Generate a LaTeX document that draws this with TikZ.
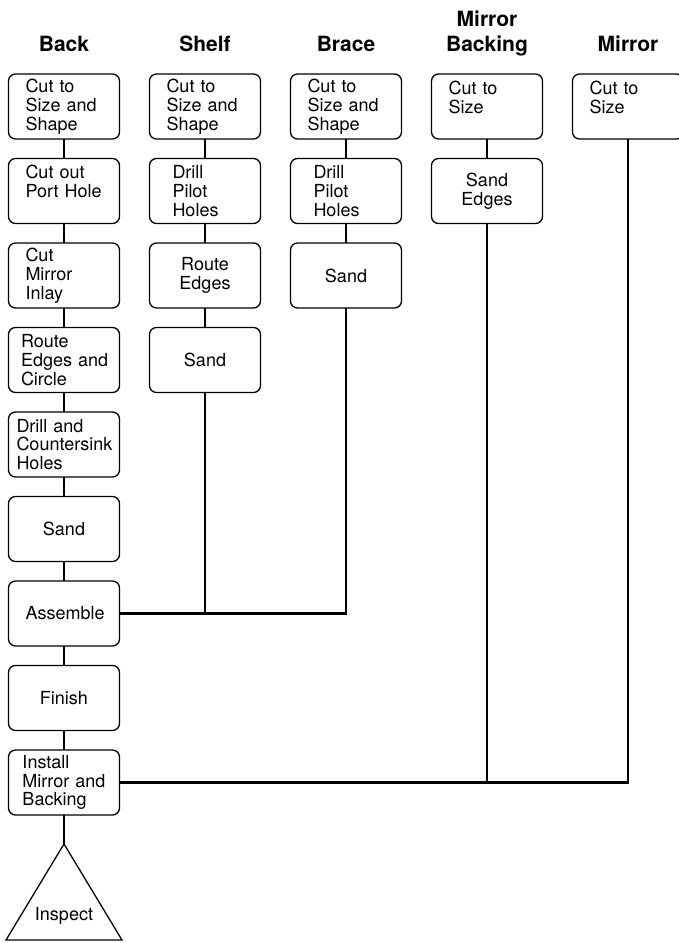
\documentclass[tikz,border=0pt]{standalone}
\usepackage{fontspec}
\setmainfont{TeX Gyre Heros}
\usepackage{tikz}
\usetikzlibrary{positioning}
\newcommand{\stepfont}{\fontsize{18}{18.8}\selectfont}
\newcommand{\headfont}{\fontsize{21}{25}\selectfont\bfseries}
\tikzset{
  stepbox/.style={draw,line width=1.3pt,rounded corners=7pt,minimum width=111pt,minimum height=65pt,text width=77pt,inner xsep=17pt,inner ysep=3pt,outer sep=0pt,align=left,font=\stepfont},
  midbox/.style={stepbox,align=center},
  colhead/.style={font=\headfont,align=center,inner sep=0pt,text depth=0pt},
  link/.style={line width=2.6pt},
  tribox/.style={line width=1.3pt,line join=miter}
}
\begin{document}
\begin{tikzpicture}[x=1pt,y=1pt,node distance=19.5pt and 30pt]
\useasboundingbox (0,0) rectangle (679,-943);
% back
\node[stepbox] (b1) at (64,-106.5) {Cut to\\Size and\\Shape};
\node[stepbox,below=of b1] (b2) {Cut out\\Port Hole\\~};
\node[stepbox,below=of b2] (b3) {Cut\\Mirror\\Inlay};
\node[stepbox,below=of b3,inner xsep=12.5pt,text width=86pt] (b4) {Route\\Edges~and\\Circle};
\node[stepbox,below=of b4,inner xsep=8pt,text width=95pt] (b5) {Drill and\\Countersink\\Holes};
\node[midbox,below=of b5] (b6) {Sand};
\node[midbox,below=of b6] (b7) {Assemble};
\node[midbox,below=of b7] (b8) {Finish};
\node[stepbox,below=of b8,inner xsep=14pt,text width=83pt] (b9) {Install\\Mirror~and\\Backing};
\coordinate[below=29pt of b9] (tip);
\node[font=\stepfont] (insp) at ([yshift=-72pt]tip) {Inspect};
% shelf
\node[stepbox,right=of b1] (s1) {Cut to\\Size and\\Shape};
\node[stepbox,below=of s1,inner xsep=23pt,text width=65pt] (s2) {Drill\\Pilot\\Holes};
\node[midbox,below=of s2] (s3) {Route\\Edges};
\node[midbox,below=of s3] (s4) {Sand};
% brace
\node[stepbox,right=of s1] (r1) {Cut to\\Size and\\Shape};
\node[stepbox,below=of r1,inner xsep=23pt,text width=65pt] (r2) {Drill\\Pilot\\Holes};
\node[midbox,below=of r2] (r3) {Sand};
% mirror backing
\node[stepbox,right=of r1] (m1) {Cut to\\Size\\~};
\node[midbox,below=of m1] (m2) {Sand\\Edges};
% mirror
\node[stepbox,right=of m1] (g1) {Cut to\\Size\\~};
% headings
\node[colhead,above=22pt of b1] (hback) {Back};
\node[colhead,above=22pt of s1] (hshelf) {Shelf};
\node[colhead,above=22pt of r1] (hbrace) {Brace};
\node[colhead,above=22pt of m1] (hbacking) {Mirror\\Backing};
\node[colhead,above=22pt of g1] (hmirror) {Mirror};
% links
\draw[link] (b1) -- (b2);
\draw[link] (b2) -- (b3);
\draw[link] (b3) -- (b4);
\draw[link] (b4) -- (b5);
\draw[link] (b5) -- (b6);
\draw[link] (b6) -- (b7);
\draw[link] (b7) -- (b8);
\draw[link] (b8) -- (b9);
\draw[link] (b9) -- (tip);
\draw[link] (s1) -- (s2);
\draw[link] (s2) -- (s3);
\draw[link] (s3) -- (s4);
\draw[link] (r1) -- (r2);
\draw[link] (r2) -- (r3);
\draw[link] (m1) -- (m2);
\draw[link] (b7.east) -| (r3.south);
\draw[link] (s4.south) -- (s4.south |- b7.east);
\draw[link] (b9.east) -| (g1.south);
\draw[link] (m2.south) -- (m2.south |- b9.east);
% inspect triangle
\draw[tribox] (tip) -- ++(-58,-96) -- ++(116,0) -- cycle;
\end{tikzpicture}
\end{document}
